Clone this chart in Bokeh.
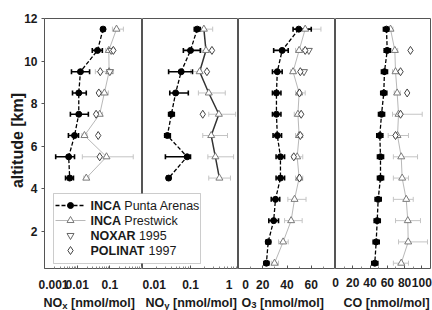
from math import pi
from bokeh.plotting import figure
from bokeh.layouts import row, column
from bokeh.models import (ColumnDataSource, Whisker, TeeHead, FixedTicker,
                          BoxAnnotation, Label)
from bokeh.embed import file_html
from bokeh.resources import INLINE

FONT = "Liberation Sans"

# ---------------- data ----------------
alt8 = [11.5, 10.5, 9.5, 8.5, 7.5, 6.5, 5.5, 4.5]
alt12 = [11.5, 10.5, 9.5, 8.5, 7.5, 6.5, 5.5, 4.5, 3.5, 2.5, 1.5, 0.5]

# NOx
nox_pa = [0.062, 0.042, 0.0126, 0.0112, 0.0112, 0.0083, 0.0055, 0.0059]
nox_pa_lo = [0.055, 0.029, 0.0067, 0.0072, 0.0062, 0.0054, 0.0022, 0.0044]
nox_pa_hi = [0.070, 0.059, 0.024, 0.019, 0.022, 0.011, 0.0083, 0.0077]
nox_pw = [0.16, 0.093, 0.095, 0.068, 0.049, 0.0167, 0.079, 0.019]
nox_pw_lo = [0.12, 0.075, 0.036, 0.055, 0.040, 0.014, 0.0144, 0.016]
nox_pw_hi = [0.26, 0.12, 0.13, 0.09, 0.060, 0.020, 0.52, 0.023]
nox_pol_alt = [10.5, 9.5, 8.5, 7.5, 6.5, 5.5]
nox_pol = [0.128, 0.051, 0.046, 0.038, 0.044, 0.049]
nox_nxr_alt = [10.5, 9.5]
nox_nxr = [0.11, 0.10]

# NOy
noy_pa = [0.138, 0.10, 0.064, 0.049, 0.040, 0.033, 0.085, 0.035]
noy_pa_lo = [0.12, 0.071, 0.035, 0.037, 0.035, 0.029, 0.030, 0.032]
noy_pa_hi = [0.16, 0.16, 0.11, 0.09, 0.046, 0.038, 0.10, 0.038]
noy_pw = [0.19, 0.21, 0.155, 0.24, 0.39, 0.27, 0.33, 0.40]
noy_pw_lo = [0.15, 0.17, 0.10, 0.146, 0.24, 0.18, 0.23, 0.24]
noy_pw_hi = [0.29, 0.26, 0.17, 0.53, 0.87, 0.59, 0.79, 0.68]
noy_pol_alt = [10.5, 9.5, 7.5]
noy_pol = [0.28, 0.22, 0.18]

# O3
o3_pa = [49.7, 36, 32, 31.3, 31.3, 32, 34.6, 34.6, 30.5, 29, 24.5, 23]
o3_pa_lo = [45, 29, 28, 28, 28, 28.5, 31, 31, 27, 25, 22.5, 21]
o3_pa_hi = [60, 41, 36, 35, 35, 35.5, 38, 38, 34, 33, 26.5, 25]
o3_pw = [55, 50, 45, 50, 49, 50, 48.4, 50, 46.2, 43.4, 36.8, 29.7]
o3_pw_lo = [50, 47, 43, 47, 46, 47, 44, 47, 40.7, 38, 33, 27]
o3_pw_hi = [68, 53, 47, 55, 52, 53, 53, 53, 55.7, 52.5, 41, 33]
o3_pol_alt = [10.5, 9.5, 8.5, 7.5, 6.5, 5.5, 4.5]
o3_pol = [55, 51, 50.3, 51.7, 51, 45.6, 50.3]
o3_nxr_alt = [10.5, 9.5]
o3_nxr = [58, 54]

# CO
co_pa = [59, 59.9, 56.7, 55.9, 53.3, 51.3, 52.1, 52.1, 49.4, 48.3, 47.1, 45.5]
co_pa_lo = [55.5, 56.4, 53.2, 52.4, 49.8, 47.8, 48.6, 48.6, 45.9, 44.8, 43.6, 42.0]
co_pa_hi = [62.5, 63.4, 60.2, 59.4, 56.8, 54.8, 55.6, 55.6, 52.9, 51.8, 50.6, 49.0]
co_pw = [63.7, 68.7, 69.5, 71.4, 73, 71.8, 76.1, 77.2, 81.9, 83.7, 84.2, 76.1]
co_pw_lo = [61, 65, 66, 68, 66, 61, 67, 67, 67, 69.5, 73, 67]
co_pw_hi = [66.5, 72, 73, 75, 100.4, 84.5, 95, 84.5, 90, 98.4, 106.5, 84.5]
co_pol_alt = [10.5, 9.5, 8.5, 7.5, 6.5]
co_pol = [86.8, 75.3, 83, 75.3, 69.5]

altitude_ticks = [2, 4, 6, 8, 10, 12]
nox_ticks = [0.001, 0.01, 0.1]
noy_ticks = [0.01, 0.1, 1]
o3_ticks = [0, 20, 40, 60]
co_ticks = [0, 20, 40, 60, 80, 100]

legend_bold = ["INCA", "INCA", "NOXAR", "POLINAT"]
legend_rest = ["Punta Arenas", "Prestwick", "1995", "1997"]

# ---------------- style ----------------
PA_C = "#000000"
PW_C = "#7a7a7a"
PW_LINE = "#b8b8b8"
PW_ERR = "#c4c4c4"
OUT_C = "#555555"
TXT = "#1a1a1a"
W, H = 432, 310
FRAME_TOP, FRAME_H = 18, 250


def log_minor(decades):
    return [k * 10.0 ** d for d in decades for k in range(2, 10)]


def make_fig(x_range, axis_type, fw, mbl, mbr, with_y):
    p = figure(x_range=x_range, y_range=(0.25, 12), x_axis_type=axis_type,
               frame_width=fw, frame_height=FRAME_H,
               min_border_top=FRAME_TOP, min_border_bottom=H - FRAME_TOP - FRAME_H,
               min_border_left=mbl, min_border_right=mbr,
               y_axis_location="left" if with_y else None,
               toolbar_location=None, tools="", output_backend="svg")
    p.grid.visible = False
    p.outline_line_color = OUT_C
    p.outline_line_width = 1
    ax = p.xaxis[0]
    ax.axis_line_color = None
    ax.major_tick_in = 3
    ax.major_tick_out = 0
    ax.minor_tick_in = 2
    ax.minor_tick_out = 0
    ax.major_tick_line_color = OUT_C
    ax.minor_tick_line_color = "#888888"
    ax.major_label_standoff = 9
    ax.major_label_text_font = FONT
    ax.major_label_text_font_size = "12px"
    ax.major_label_text_font_style = "bold"
    ax.major_label_text_color = TXT
    return p


def whisk(p, alt, lo, hi, color, lw, size):
    src = ColumnDataSource(dict(y=alt, lo=lo, hi=hi))
    w = Whisker(base="y", lower="lo", upper="hi", dimension="width", source=src,
                line_color=color, line_width=lw,
                upper_head=TeeHead(size=size, line_color=color, line_width=lw),
                lower_head=TeeHead(size=size, line_color=color, line_width=lw))
    p.add_layout(w)


PA_LINE = dict(line_color=PA_C, line_width=1.3, line_dash="4 2")
PA_MARK = dict(marker="circle", size=6, fill_color=PA_C, line_color=PA_C)
PW_MARK = dict(marker="triangle", size=7, line_color=PW_C, fill_color="white", line_width=1)
NX_MARK = dict(marker="inverted_triangle", size=7, fill_color="white",
               line_color="#666666", line_width=1)
PO_MARK = dict(marker="diamond", size=8, fill_color="white", line_color="#444444",
               line_width=1)


def panel(p, alt, pa, pa_lo, pa_hi, pw, pw_lo, pw_hi, pw_line=PW_LINE, pw_lw=1.0):
    whisk(p, alt, pw_lo, pw_hi, PW_ERR, 1, 5)
    p.line(pw, alt, line_color=pw_line, line_width=pw_lw)
    p.scatter(pw, alt, **PW_MARK)
    whisk(p, alt, pa_lo, pa_hi, PA_C, 1.6, 5)
    p.line(pa, alt, **PA_LINE)
    p.scatter(pa, alt, **PA_MARK)


# ---------------- panel 1: NOx ----------------
p1 = make_fig((0.001, 1), "log", 98, 44, 0, True)
p1.xaxis.ticker = FixedTicker(ticks=nox_ticks, minor_ticks=log_minor([-3, -2, -1]))
p1.xaxis.major_label_overrides = {0.001: "\u2003\u20020.001", 0.01: "0.01", 0.1: "0.1"}
ya = p1.yaxis[0]
ya.ticker = FixedTicker(ticks=altitude_ticks)
ya.axis_line_color = None
ya.major_tick_line_color = OUT_C
ya.minor_tick_line_color = None
ya.major_tick_in = 0
ya.major_tick_out = 3
ya.major_label_standoff = 4
ya.major_label_text_font = FONT
ya.major_label_text_font_size = "12px"
ya.major_label_text_font_style = "bold"
ya.major_label_text_color = TXT
panel(p1, alt8, nox_pa, nox_pa_lo, nox_pa_hi, nox_pw, nox_pw_lo, nox_pw_hi)
p1.scatter(nox_nxr, nox_nxr_alt, **NX_MARK)
p1.scatter(nox_pol, nox_pol_alt, **PO_MARK)

# ---------------- panel 2: NOy ----------------
OVL = 12
p2 = make_fig((0.01, 1), "log", 96, OVL, 0, False)
p2.xaxis.ticker = FixedTicker(ticks=noy_ticks, minor_ticks=log_minor([-2, -1]))
p2.xaxis.major_label_overrides = {0.01: "\u20030.01", 0.1: "0.1", 1: "1\u2002"}
panel(p2, alt8, noy_pa, noy_pa_lo, noy_pa_hi, noy_pw, noy_pw_lo, noy_pw_hi,
      pw_line="#333333", pw_lw=1.5)
p2.scatter(noy_pol, noy_pol_alt, **PO_MARK)

# ---------------- panel 3: O3 ----------------
p3 = make_fig((0, 80), "linear", 97, OVL, 0, False)
p3.xaxis.ticker = FixedTicker(ticks=o3_ticks, minor_ticks=[10, 30, 50, 70])
p3.xaxis.major_label_overrides = {0: "\u2003\u20090", 20: "20", 40: "40", 60: "60"}
panel(p3, alt12, o3_pa, o3_pa_lo, o3_pa_hi, o3_pw, o3_pw_lo, o3_pw_hi)
p3.scatter(o3_nxr, o3_nxr_alt, **NX_MARK)
p3.scatter(o3_pol, o3_pol_alt, **PO_MARK)

# ---------------- panel 4: CO ----------------
p4 = make_fig((0, 110), "linear", 95, OVL, 2, False)
p4.xaxis.ticker = FixedTicker(ticks=co_ticks, minor_ticks=[10, 30, 50, 70, 90])
panel(p4, alt12, co_pa, co_pa_lo, co_pa_hi, co_pw, co_pw_lo, co_pw_hi)
p4.scatter(co_pol, co_pol_alt, **PO_MARK)

for p in (p2, p3, p4):
    p.border_fill_color = None
    p.styles = {"margin-left": f"-{OVL}px"}

# ---------------- overlay: legend and axis titles (pixel space) ----------------
ov = figure(width=W, height=H, min_border=0, x_range=(0, W), y_range=(0, H),
            x_axis_location=None, y_axis_location=None,
            toolbar_location=None, tools="", output_backend="svg")
ov.grid.visible = False
ov.outline_line_color = None
ov.background_fill_color = None
ov.border_fill_color = None
ov.styles = {"margin-top": f"-{H}px"}

# legend box and keys
LEG_L, LEG_R, LEG_B, LEG_T = 53, 200, 47, 117
KEY_X0, KEY_X1, KEY_XM, TXT_X = 55, 85, 70, 90
ROW_Y = [105, 90, 75, 60]
LEG_FS = 12.5
ov.add_layout(BoxAnnotation(left=LEG_L, right=LEG_R, bottom=LEG_B, top=LEG_T,
                            fill_color="white", fill_alpha=1.0, line_color=OUT_C,
                            line_width=1, level="underlay"))
ov.line([KEY_X0, KEY_X1], [ROW_Y[0], ROW_Y[0]], **PA_LINE)
ov.scatter([KEY_XM], [ROW_Y[0]], **PA_MARK)
ov.line([KEY_X0, KEY_X1], [ROW_Y[1], ROW_Y[1]], line_color=PW_LINE, line_width=1)
ov.scatter([KEY_XM], [ROW_Y[1]], **PW_MARK)
ov.scatter([KEY_XM], [ROW_Y[2]], **NX_MARK)
ov.scatter([KEY_XM], [ROW_Y[3]], **PO_MARK)

bold_em = {"INCA": 2.444, "NOXAR": 3.611, "POLINAT": 4.389}
for yy, b, r in zip(ROW_Y, legend_bold, legend_rest):
    ov.add_layout(Label(x=TXT_X, y=yy, x_units="screen", y_units="screen", text=b,
                        text_font=FONT, text_font_style="bold",
                        text_font_size=f"{LEG_FS}px",
                        text_color=TXT, text_baseline="middle"))
    ov.add_layout(Label(x=TXT_X + (bold_em[b] + 0.26) * LEG_FS, y=yy, x_units="screen",
                        y_units="screen", text=r, text_font=FONT,
                        text_font_size=f"{LEG_FS}px", text_color=TXT,
                        text_baseline="middle"))

common = dict(x_units="screen", y_units="screen", text_font=FONT,
              text_font_style="bold", text_color=TXT, text_baseline="alphabetic")
BASE_Y, SUB_Y = 8, 5.5
AX_FS, SUB_FS = 12.5, 9.5


def xlabel(x0, main, sub):
    wmain = {"NO": 1.5 * AX_FS, "O": 0.778 * AX_FS}
    if sub:
        ov.add_layout(Label(x=x0, y=BASE_Y, text=main, text_font_size=f"{AX_FS}px",
                            **common))
        ov.add_layout(Label(x=x0 + wmain[main], y=SUB_Y, text=sub,
                            text_font_size=f"{SUB_FS}px", **common))
        ov.add_layout(Label(x=x0 + wmain[main] + 0.556 * SUB_FS + 0.278 * AX_FS,
                            y=BASE_Y, text="[nmol/mol]", text_font_size=f"{AX_FS}px",
                            **common))
    else:
        ov.add_layout(Label(x=x0, y=BASE_Y, text=main + " [nmol/mol]",
                            text_font_size=f"{AX_FS}px", **common))


xlabel(43, "NO", "x")
xlabel(145, "NO", "y")
xlabel(241, "O", "3")
xlabel(343, "CO", "")

ov.add_layout(Label(x=17, y=H - 140, x_units="screen", y_units="screen",
                    text="altitude [km]", angle=pi / 2, text_align="center",
                    text_baseline="middle", text_font=FONT, text_font_style="bold",
                    text_font_size="16px", text_color=TXT))

layout = column(row(p1, p2, p3, p4), ov)
open("out.html", "w").write(file_html(layout, INLINE))
